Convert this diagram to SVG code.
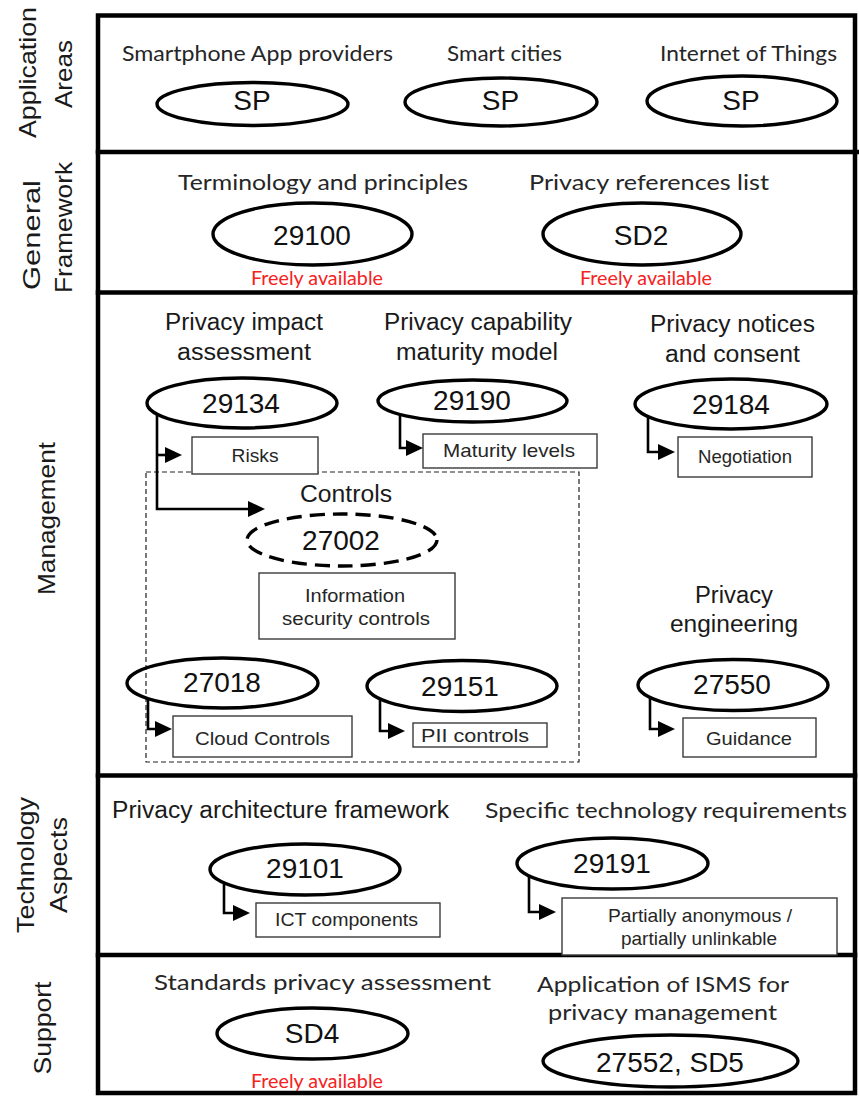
<svg xmlns="http://www.w3.org/2000/svg" width="859" height="1099" viewBox="0 0 859 1099">
  <defs>
    <style>
      .frame{fill:none;stroke:#000;stroke-width:4.5;stroke-linecap:square}
      .std{fill:none;stroke:#000;stroke-width:3.4}
      .std-dash{fill:none;stroke:#000;stroke-width:3.4;stroke-dasharray:15 8}
      .box{fill:#fff;stroke:#3a3a3a;stroke-width:1.4}
      .group-outline{fill:none;stroke:#222;stroke-width:1.2;stroke-dasharray:5 3}
      .conn{fill:none;stroke:#000;stroke-width:2.6}
      .side{font-family:"Liberation Sans",Arial,sans-serif;font-size:24px;fill:#1a1a1a;text-anchor:middle}
      .head{font-family:"Liberation Sans",Arial,sans-serif;font-size:23.5px;fill:#1a1a1a;text-anchor:middle}
      .soft{font-family:Lato,"Open Sans",sans-serif;font-size:22px;fill:#262626;text-anchor:middle}
      .num{font-family:"Liberation Sans",Arial,sans-serif;font-size:28px;fill:#111;text-anchor:middle}
      .lbl{font-family:"Liberation Sans",Arial,sans-serif;font-size:19px;fill:#262626;text-anchor:middle}
      .free{font-family:Lato,"Open Sans",sans-serif;font-size:18.5px;fill:#f52222;text-anchor:middle}
    </style>
    <marker id="arrow" markerUnits="userSpaceOnUse" markerWidth="18" markerHeight="16" refX="5" refY="8" orient="auto">
      <path d="M0,0 L17,8 L0,16 z" fill="#000"/>
    </marker>
  </defs>

  <rect width="859" height="1099" fill="#fff"/>

  <!-- layer frame and dividers -->
  <g id="frame">
    <rect class="frame" x="98" y="15.5" width="757" height="1077.5"/>
    <line class="frame" x1="98" y1="152" x2="857" y2="152"/>
    <line class="frame" x1="98" y1="292.5" x2="855" y2="292.5"/>
    <line class="frame" x1="98" y1="775.5" x2="855" y2="775.5"/>
    <line class="frame" x1="98" y1="955" x2="855" y2="955"/>
  </g>

  <!-- layer names, rotated -->
  <g id="layer-labels">
    <text class="side" transform="rotate(-90)" x="-72.5" y="36" textLength="131" lengthAdjust="spacingAndGlyphs">Application</text>
    <text class="side" transform="rotate(-90)" x="-74" y="72" textLength="68" lengthAdjust="spacingAndGlyphs">Areas</text>
    <text class="side" transform="rotate(-90)" x="-235" y="40" textLength="110" lengthAdjust="spacingAndGlyphs">General</text>
    <text class="side" transform="rotate(-90)" x="-227.5" y="72" textLength="131" lengthAdjust="spacingAndGlyphs">Framework</text>
    <text class="side" transform="rotate(-90)" x="-518.5" y="55" textLength="153" lengthAdjust="spacingAndGlyphs">Management</text>
    <text class="side" transform="rotate(-90)" x="-865" y="34" textLength="136" lengthAdjust="spacingAndGlyphs">Technology</text>
    <text class="side" transform="rotate(-90)" x="-865" y="67" textLength="96" lengthAdjust="spacingAndGlyphs">Aspects</text>
    <text class="side" transform="rotate(-90)" x="-1028" y="51" textLength="93" lengthAdjust="spacingAndGlyphs">Support</text>
  </g>

  <!-- Application areas -->
  <g id="app-smartphone">
    <text class="soft" x="257.5" y="61" font-size="21" textLength="271" lengthAdjust="spacingAndGlyphs">Smartphone App providers</text>
    <ellipse class="std" cx="252.5" cy="104" rx="95.5" ry="21.5"/>
    <text class="num" x="252" y="110">SP</text>
  </g>
  <g id="app-smart-cities">
    <text class="soft" x="504.5" y="61" font-size="21" textLength="115" lengthAdjust="spacingAndGlyphs">Smart cities</text>
    <ellipse class="std" cx="501" cy="102" rx="96" ry="24"/>
    <text class="num" x="500.5" y="110">SP</text>
  </g>
  <g id="app-iot">
    <text class="soft" x="748.5" y="61" font-size="21" textLength="177" lengthAdjust="spacingAndGlyphs">Internet of Things</text>
    <ellipse class="std" cx="742" cy="101" rx="95" ry="25"/>
    <text class="num" x="741" y="110">SP</text>
  </g>

  <!-- General framework -->
  <g id="gf-29100">
    <text class="soft" x="323" y="190" textLength="290" lengthAdjust="spacingAndGlyphs">Terminology and principles</text>
    <ellipse class="std" cx="312.5" cy="234" rx="99.5" ry="31"/>
    <text class="num" x="312" y="245">29100</text>
    <text class="free" x="317" y="285" textLength="132" lengthAdjust="spacingAndGlyphs">Freely available</text>
  </g>
  <g id="gf-sd2">
    <text class="soft" x="649" y="190" textLength="240" lengthAdjust="spacingAndGlyphs">Privacy references list</text>
    <ellipse class="std" cx="642" cy="234" rx="99" ry="31"/>
    <text class="num" x="641" y="245">SD2</text>
    <text class="free" x="646" y="285" textLength="132" lengthAdjust="spacingAndGlyphs">Freely available</text>
  </g>

  <!-- Management -->
  <rect id="controls-group" class="group-outline" x="146" y="472" width="433" height="290"/>

  <g id="mg-29134">
    <text class="head" x="244" y="330" textLength="158" lengthAdjust="spacingAndGlyphs">Privacy impact</text>
    <text class="head" x="244" y="360" textLength="134" lengthAdjust="spacingAndGlyphs">assessment</text>
    <ellipse class="std" cx="242" cy="403" rx="95" ry="25"/>
    <text class="num" x="241" y="413">29134</text>
  </g>
  <g id="mg-risks">
    <rect class="box" x="192" y="437" width="126" height="37"/>
    <text class="lbl" x="255" y="462" textLength="47" lengthAdjust="spacingAndGlyphs">Risks</text>
  </g>

  <g id="mg-29190">
    <text class="head" x="478" y="330" textLength="188" lengthAdjust="spacingAndGlyphs">Privacy capability</text>
    <text class="head" x="477" y="360" textLength="162" lengthAdjust="spacingAndGlyphs">maturity model</text>
    <ellipse class="std" cx="472.5" cy="401" rx="94.5" ry="21"/>
    <text class="num" x="472" y="410">29190</text>
  </g>
  <g id="mg-maturity">
    <rect class="box" x="423" y="434" width="174" height="34"/>
    <text class="lbl" x="509" y="457" textLength="132" lengthAdjust="spacingAndGlyphs">Maturity levels</text>
  </g>

  <g id="mg-29184">
    <text class="head" x="732.5" y="332" textLength="165" lengthAdjust="spacingAndGlyphs">Privacy notices</text>
    <text class="head" x="732.5" y="362" textLength="135" lengthAdjust="spacingAndGlyphs">and consent</text>
    <ellipse class="std" cx="731" cy="404" rx="96" ry="25"/>
    <text class="num" x="731" y="414">29184</text>
  </g>
  <g id="mg-negotiation">
    <rect class="box" x="678" y="437" width="134" height="40"/>
    <text class="lbl" x="745" y="463" textLength="94" lengthAdjust="spacingAndGlyphs">Negotiation</text>
  </g>

  <g id="mg-27002">
    <text class="head" x="346" y="502" textLength="92" lengthAdjust="spacingAndGlyphs">Controls</text>
    <ellipse class="std-dash" cx="342" cy="540" rx="95" ry="26"/>
    <text class="num" x="341" y="550">27002</text>
  </g>
  <g id="mg-infosec">
    <rect class="box" x="259" y="573" width="196" height="66"/>
    <text class="lbl" x="355" y="602" textLength="100" lengthAdjust="spacingAndGlyphs">Information</text>
    <text class="lbl" x="356" y="625" textLength="148" lengthAdjust="spacingAndGlyphs">security controls</text>
  </g>

  <g id="mg-27018">
    <ellipse class="std" cx="222.5" cy="683" rx="95.5" ry="25"/>
    <text class="num" x="222" y="692">27018</text>
  </g>
  <g id="mg-cloud">
    <rect class="box" x="173" y="716" width="179" height="41"/>
    <text class="lbl" x="262.5" y="745" textLength="135" lengthAdjust="spacingAndGlyphs">Cloud Controls</text>
  </g>

  <g id="mg-29151">
    <ellipse class="std" cx="462" cy="686" rx="95" ry="25.5"/>
    <text class="num" x="460" y="696">29151</text>
  </g>
  <g id="mg-pii">
    <rect class="box" x="413" y="723" width="134" height="24"/>
    <text class="lbl" x="475" y="742" textLength="108" lengthAdjust="spacingAndGlyphs">PII controls</text>
  </g>

  <g id="mg-27550">
    <text class="head" x="734" y="603" textLength="78" lengthAdjust="spacingAndGlyphs">Privacy</text>
    <text class="head" x="734" y="632" textLength="128" lengthAdjust="spacingAndGlyphs">engineering</text>
    <ellipse class="std" cx="733" cy="685" rx="95" ry="25.5"/>
    <text class="num" x="732" y="694">27550</text>
  </g>
  <g id="mg-guidance">
    <rect class="box" x="683" y="718" width="133" height="39"/>
    <text class="lbl" x="749" y="745" textLength="86" lengthAdjust="spacingAndGlyphs">Guidance</text>
  </g>

  <!-- Technology aspects -->
  <g id="ta-29101">
    <text class="head" x="280.5" y="818" textLength="337" lengthAdjust="spacingAndGlyphs">Privacy architecture framework</text>
    <ellipse class="std" cx="305" cy="869.5" rx="95" ry="25.5"/>
    <text class="num" x="305" y="878">29101</text>
  </g>
  <g id="ta-ict">
    <rect class="box" x="256" y="903" width="184" height="34"/>
    <text class="lbl" x="346.5" y="926" textLength="143" lengthAdjust="spacingAndGlyphs">ICT components</text>
  </g>
  <g id="ta-29191">
    <text class="soft" x="666" y="818" textLength="362" lengthAdjust="spacingAndGlyphs">Specific technology requirements</text>
    <ellipse class="std" cx="612.5" cy="863.5" rx="95.5" ry="25.5"/>
    <text class="num" x="612" y="873">29191</text>
  </g>
  <g id="ta-partial">
    <rect class="box" x="562" y="898" width="275" height="57"/>
    <text class="lbl" x="700" y="922" textLength="184" lengthAdjust="spacingAndGlyphs">Partially anonymous /</text>
    <text class="lbl" x="699" y="945" textLength="156" lengthAdjust="spacingAndGlyphs">partially unlinkable</text>
  </g>

  <!-- Support -->
  <g id="sp-sd4">
    <text class="soft" x="322.5" y="990" textLength="337" lengthAdjust="spacingAndGlyphs">Standards privacy assessment</text>
    <ellipse class="std" cx="312.5" cy="1033.5" rx="95.5" ry="25.5"/>
    <text class="num" x="312" y="1043">SD4</text>
    <text class="free" x="317" y="1088" textLength="132" lengthAdjust="spacingAndGlyphs">Freely available</text>
  </g>
  <g id="sp-27552">
    <text class="soft" x="663" y="992" font-size="23" textLength="252" lengthAdjust="spacingAndGlyphs">Application of ISMS for</text>
    <text class="soft" x="662.5" y="1020" font-size="23" textLength="229" lengthAdjust="spacingAndGlyphs">privacy management</text>
    <ellipse class="std" cx="670.5" cy="1061" rx="127.5" ry="26"/>
    <text class="num" x="670" y="1072">27552, SD5</text>
  </g>

  <!-- connectors -->
  <g id="connectors">
    <path class="conn" d="M157,414 V509 H253" marker-end="url(#arrow)"/>
    <path class="conn" d="M157,455 H170" marker-end="url(#arrow)"/>
    <path class="conn" d="M400,415 V448 H411" marker-end="url(#arrow)"/>
    <path class="conn" d="M648,416 V452 H663" marker-end="url(#arrow)"/>
    <path class="conn" d="M148,698 V729 H160" marker-end="url(#arrow)"/>
    <path class="conn" d="M380,698 V731 H393" marker-end="url(#arrow)"/>
    <path class="conn" d="M650,697 V729 H663" marker-end="url(#arrow)"/>
    <path class="conn" d="M224,883 V913 H238" marker-end="url(#arrow)"/>
    <path class="conn" d="M529,875 V912 H544" marker-end="url(#arrow)"/>
  </g>
</svg>
